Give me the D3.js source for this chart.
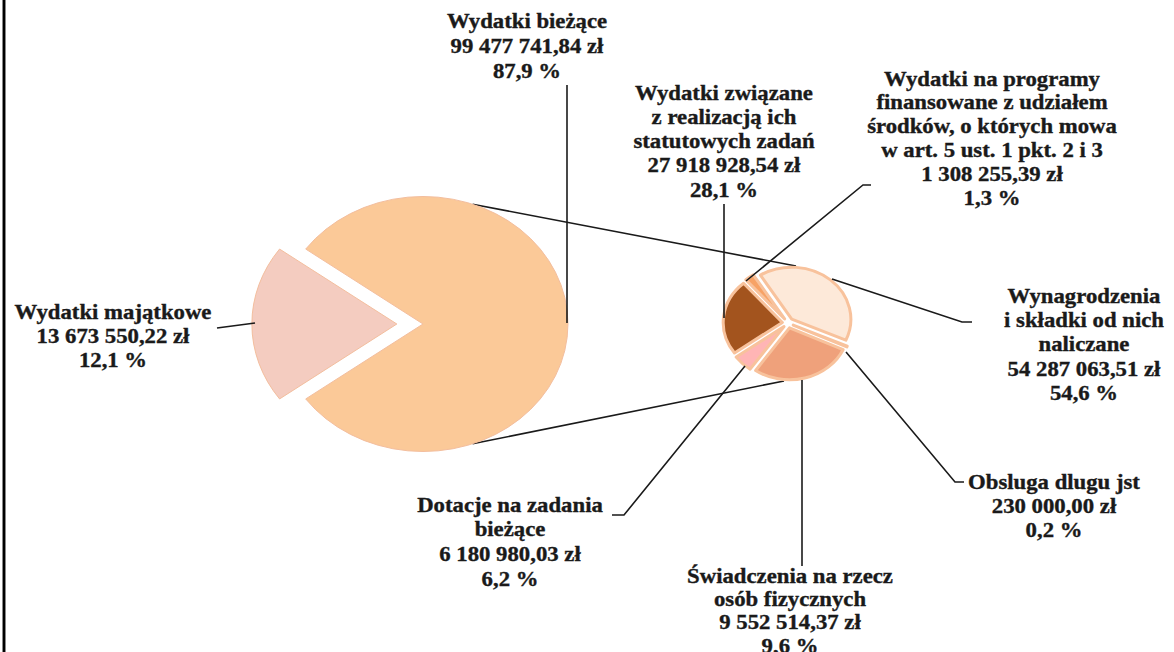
<!DOCTYPE html>
<html><head><meta charset="utf-8">
<script src="https://cdn.jsdelivr.net/npm/d3@7"></script>
<style>html,body{margin:0;padding:0;background:#fff;overflow:hidden}</style>
</head><body>
<script>
// ---------- DATA ----------
const bigNames = [["Wydatki bieżące"], ["Wydatki majątkowe"]];
const bigAmounts = [99477741.84, 13673550.22];
const bigPercents = [87.9, 12.1];
// slice sizes as they are drawn in the picture (the drawn angles differ from the labelled amounts)
const bigShares = [80, 20];

const smallNames = [
  ["Wynagrodzenia", "i składki od nich", "naliczane"],
  ["Obsluga dlugu jst"],
  ["Świadczenia na rzecz", "osób fizycznych"],
  ["Dotacje na zadania", "bieżące"],
  ["Wydatki związane", "z realizacją ich", "statutowych zadań"],
  ["Wydatki na programy", "finansowane z udziałem", "środków, o których mowa", "w art. 5 ust. 1 pkt. 2 i 3"]
];
const smallAmounts = [54287063.51, 230000.00, 9552514.37, 6180980.03, 27918928.54, 1308255.39];
const smallPercents = [54.6, 0.2, 9.6, 6.2, 28.1, 1.3];
// slice sizes
const smallShares = [40.5, 0.3, 27.8, 5.3, 23.6, 2.5];

// ---------- STYLE / LAYOUT ----------
const W = 1174, H = 652, SX = 1.137;
const bigColors = ["#FBC998", "#F4CCC0"];
const smallColors = ["#FDE9D9", "#F79646", "#EFA17B", "#FFB5B5", "#A3541E", "#F7A266"];
const deg = Math.PI / 180;

const loc = d3.formatLocale({decimal: ",", thousands: "\u00a0", grouping: [3], currency: ["", ""]});
const fAmt = v => loc.format(",.2f")(v) + " zł";
const fPct = v => loc.format(".1f")(v) + " %";

const svg = d3.select("body").append("svg").attr("width", W).attr("height", H)
  .style("font-family", "'Liberation Serif','Times New Roman',serif");

// left frame line
svg.append("rect").attr("x", 2).attr("y", 0).attr("width", 4).attr("height", H).attr("fill", "#888");
svg.append("rect").attr("x", 3).attr("y", 0).attr("width", 2).attr("height", H).attr("fill", "#000");

const line = d3.line();

// connector lines between pies (behind)
const bigC = [423, 324], bigR = 127.5;
const smallC = [788, 323], smallR = 52;
const conn = svg.append("g").attr("fill", "none").attr("stroke", "#1a1a1a").attr("stroke-width", 1.6);
function onBig(a) { return [bigC[0] + Math.sin(a * deg) * bigR * SX, bigC[1] - Math.cos(a * deg) * bigR]; }
conn.append("path").attr("d", line([onBig(20), [796, 266]]));
conn.append("path").attr("d", line([onBig(160), [784, 381]]));

// big pie
const bigPie = d3.pie().sort(null).value(d => d).startAngle(-54 * deg).endAngle(306 * deg);
const bigArc = d3.arc().innerRadius(0).outerRadius(bigR);
const gBig = svg.append("g").attr("transform", `translate(${bigC[0]},${bigC[1]}) scale(${SX},1)`);
gBig.selectAll("path").data(bigPie(bigShares)).join("path")
  .attr("d", bigArc)
  .attr("fill", (d, i) => bigColors[i])
  .attr("stroke", "#F3BE9E").attr("stroke-width", 1).attr("vector-effect", "non-scaling-stroke")
  .attr("transform", (d, i) => {
    if (i !== 1) return null;
    const m = (d.startAngle + d.endAngle) / 2;
    return `translate(${Math.sin(m) * 23},${-Math.cos(m) * 23})`;
  });

// small pie
const smallPie = d3.pie().sort(null).value(d => d).startAngle(-32 * deg).endAngle(328 * deg);
const smallArc = d3.arc().innerRadius(0).outerRadius(smallR);
const gSmall = svg.append("g").attr("transform", `translate(${smallC[0]},${smallC[1]}) scale(${SX},1)`);
gSmall.selectAll("path").data(smallPie(smallShares)).join("path")
  .attr("d", smallArc)
  .attr("fill", (d, i) => smallColors[i])
  .attr("stroke", "#F8C29C").attr("stroke-width", 3).attr("stroke-linejoin", "round")
  .attr("vector-effect", "non-scaling-stroke")
  .attr("transform", d => {
    const m = (d.startAngle + d.endAngle) / 2;
    return `translate(${Math.sin(m) * 5},${-Math.cos(m) * 5})`;
  });

// leader lines
const leaders = [
  [[567, 85], [567, 323]],                 // bieżące
  [[217, 328], [255, 323]],                // majątkowe
  [[832, 279], [962, 322], [972, 322]],    // wynagrodzenia
  [[846, 352], [955, 482], [964, 482]],    // obsługa
  [[802, 380], [802, 566]],                // świadczenia
  [[745, 366], [624, 515], [612, 515]],    // dotacje
  [[724, 204], [724, 318]],                // związane
  [[746, 281], [863, 185], [871, 185]]     // programy
];
svg.append("g").attr("fill", "none").attr("stroke", "#1a1a1a").attr("stroke-width", 1.6)
  .selectAll("path").data(leaders).join("path").attr("d", d => line(d));

// labels
const bigLabelPos = [[527, 21, 25.5], [113, 312, 24.5]];
const smallLabelPos = [[1084, 296, 24.5], [1054, 482, 24.5], [790, 576, 23.5], [510, 505, 25], [724, 93, 24.3], [992, 79, 24]];

function label(names, amt, pct, pos) {
  const lines = names.concat([fAmt(amt), fPct(pct)]);
  const t = svg.append("text")
    .attr("transform", `translate(${pos[0]},${pos[1] + 6.5}) scale(${SX},1)`)
    .attr("text-anchor", "middle").attr("font-size", 20).attr("font-weight", "bold")
    .attr("fill", "#1a1a1a").attr("stroke", "#1a1a1a").attr("stroke-width", 0.35);
  lines.forEach((s, i) => t.append("tspan").attr("x", 0).attr("y", i * pos[2]).text(s));
}
bigNames.forEach((n, i) => label(n, bigAmounts[i], bigPercents[i], bigLabelPos[i]));
smallNames.forEach((n, i) => label(n, smallAmounts[i], smallPercents[i], smallLabelPos[i]));
</script>
</body></html>
